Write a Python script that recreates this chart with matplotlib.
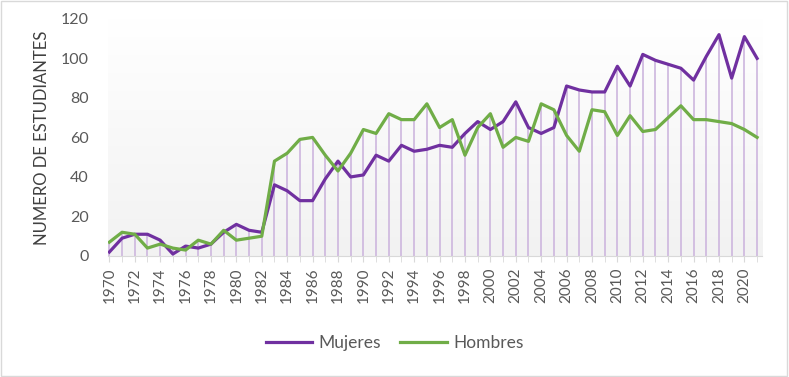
import numpy as np
import matplotlib.pyplot as plt
from matplotlib.patches import Rectangle
from matplotlib.colors import LinearSegmentedColormap

years = list(range(1970, 2022))
mujeres = [2, 9, 11, 11, 8, 1, 5, 4, 6, 12, 16, 13, 12, 36, 33, 28, 28, 39, 48, 40,
           41, 51, 48, 56, 53, 54, 56, 55, 62, 68, 64, 68, 78, 65, 62, 65, 86, 84, 83, 83,
           96, 86, 102, 99, 97, 95, 89, 101, 112, 90, 111, 100]
hombres = [7, 12, 11, 4, 6, 4, 3, 8, 6, 13, 8, 9, 10, 48, 52, 59, 60, 51, 43, 52,
           64, 62, 72, 69, 69, 77, 65, 69, 51, 65, 72, 55, 60, 58, 77, 74, 61, 53, 74, 73,
           61, 71, 63, 64, 70, 76, 69, 69, 68, 67, 64, 60]

plt.rcParams['font.family'] = ['Lato', 'DejaVu Sans']
gray = '#595959'

fig = plt.figure(figsize=(7.89, 3.77), dpi=100)
ax = fig.add_axes([0.137, 0.321, 0.829, 0.629])

x = np.array(years)
m = np.array(mujeres)
h = np.array(hombres)

# fondo degradado del area de trazado
grad = np.linspace(1, 0, 256).reshape(-1, 1)
cmap = LinearSegmentedColormap.from_list('g', ['#f2f2f2', '#ffffff'])
ax.imshow(grad, extent=[1969.9, 2021.4, 0, 120], aspect='auto', cmap=cmap, zorder=0)

# lineas de proyeccion
ax.vlines(x, 0, np.maximum(m, h), color='#cdb6de', linewidth=1.2, zorder=1)

ax.plot(x, m, color='#7030a0', linewidth=2.3, label='Mujeres', zorder=3)
ax.plot(x, h, color='#70ad47', linewidth=2.3, label='Hombres', zorder=3)

ax.set_xlim(1969.9, 2021.4)
ax.set_ylim(0, 120)
ax.set_yticks(range(0, 121, 20))
ax.set_xticks(years[::2])
ax.set_xticks(years, minor=True)
ax.tick_params(axis='x', which='both', length=4, color='#d9d9d9', labelrotation=90,
               labelsize=11, labelcolor=gray, pad=4)
ax.tick_params(axis='y', length=0, labelsize=11.5, labelcolor=gray, pad=14)

for s in ['top', 'right', 'left']:
    ax.spines[s].set_visible(False)
ax.spines['bottom'].set_color('#d9d9d9')

ax.set_ylabel('NUMERO DE ESTUDIANTES', fontsize=12, color='#404040', labelpad=8)

fig.legend(*ax.get_legend_handles_labels(), loc='center', bbox_to_anchor=(0.5, 0.09),
           ncol=2, frameon=False, fontsize=12.5, labelcolor=gray, handlelength=2.7,
           handletextpad=0.35, columnspacing=1.1)

fig.patches.append(Rectangle((0.001, 0.003), 0.997, 0.995, transform=fig.transFigure,
                             fill=False, edgecolor='#d9d9d9', linewidth=1))

plt.savefig('out.png')
